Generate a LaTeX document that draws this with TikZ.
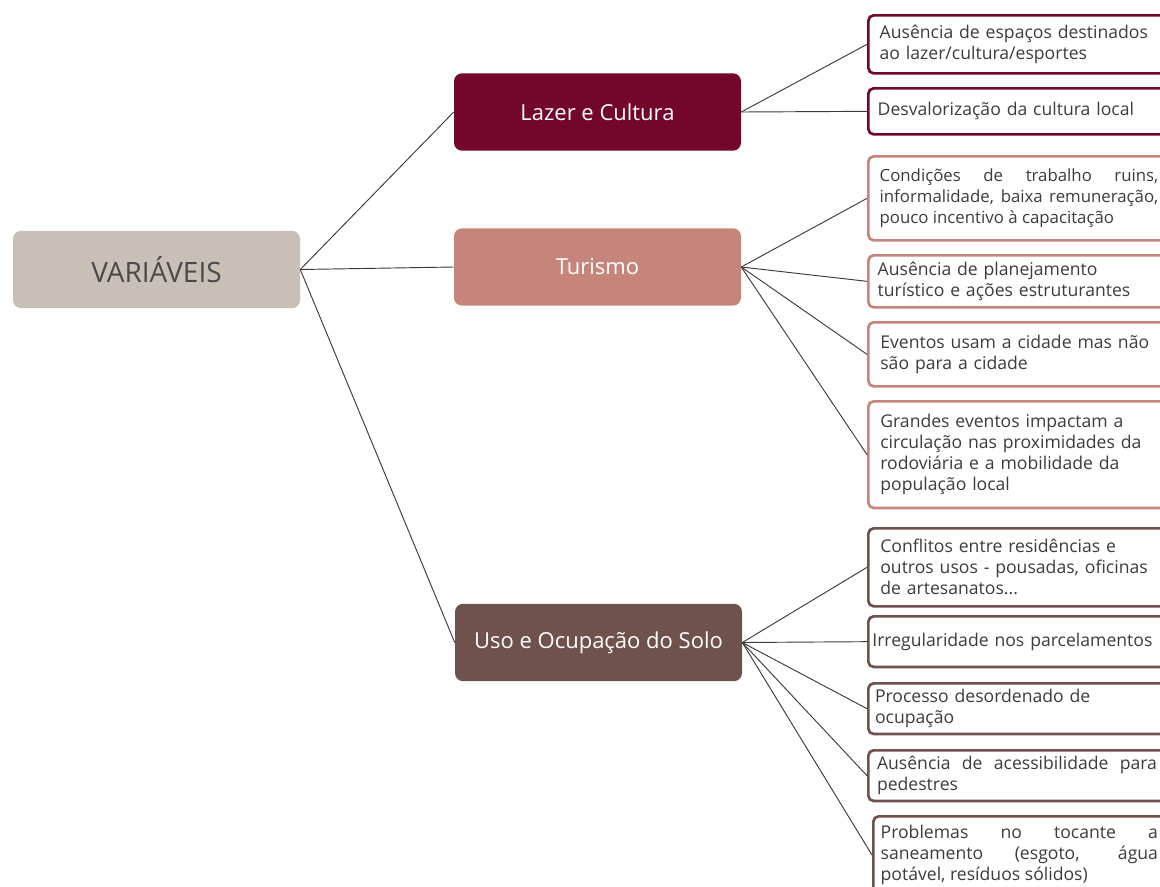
\documentclass[tikz,border=0pt]{standalone}
\usepackage{fontspec}
\setmainfont{Open Sans}
\hyphenpenalty=10000
\definecolor{varfill}{HTML}{C8BFB6}
\definecolor{vartext}{HTML}{4A4A4A}
\definecolor{lazer}{HTML}{72072B}
\definecolor{tur}{HTML}{C5857B}
\definecolor{uso}{HTML}{6F524C}
\definecolor{tgray}{HTML}{3C3C3C}
\definecolor{lgray}{HTML}{3A3A3A}
\begin{document}
\begin{tikzpicture}[x=0.75pt,y=-0.75pt,
  mainbox/.style={rounded corners=6pt, minimum width=215.25pt, minimum height=58pt, inner sep=0pt, text=white, font=\fontsize{16.5}{19}\selectfont},
  rbox/.style={draw, line width=2pt, rounded corners=4pt, fill=white, anchor=north west, inner ysep=0pt, text=tgray, font=\fontsize{13.2}{15.75}\selectfont},
  conn/.style={draw=lgray, line width=0.7pt}]
\useasboundingbox (0,0) rectangle (1160,886);
\clip (0,0) rectangle (1160,886);

\node[mainbox, fill=varfill, text=vartext, font=\fontsize{21}{24}\selectfont] (var) at (156.5,269.5) {VARIÁVEIS};
\node[mainbox, fill=lazer] (lc) at (597.5,112) {Lazer e Cultura};
\node[mainbox, fill=tur] (tu) at (597.5,267) {Turismo};
\node[mainbox, fill=uso] (us) at (598.5,642.5) {Uso e Ocupação do Solo};

% Lazer e Cultura
\node[rbox, draw=lazer, minimum height=43.5pt, inner xsep=8.5pt, text width=215pt, align=left] (a1) at (867,14) {Ausência de espaços destinados\\ao lazer/cultura/esportes};
\node[rbox, draw=lazer, minimum height=34.5pt, inner xsep=7pt, text width=220pt, align=left] (a2) at (867,87) {Desvalorização da cultura local};

% Turismo
\node[rbox, draw=tur, minimum height=63pt, inner xsep=8.5pt, text width=209pt, align=justify, font=\fontsize{12.6}{15.75}\selectfont] (b1) at (867,155) {Condições de trabalho ruins,\linebreak informalidade, baixa remuneração,\linebreak pouco incentivo à capacitação};
\node[rbox, draw=tur, minimum height=39pt, inner xsep=7pt, text width=220pt, align=left] (b2) at (867,254) {Ausência de planejamento\\turístico e ações estruturantes};
\node[rbox, draw=tur, minimum height=48pt, inner xsep=9pt, text width=215pt, align=left] (b3) at (867,321) {Eventos usam a cidade mas não\\são para a cidade};
\node[rbox, draw=tur, minimum height=80pt, inner xsep=9pt, text width=215pt, align=left] (b4) at (867,400) {Grandes eventos impactam a\\circulação nas proximidades da\\rodoviária e a mobilidade da\\população local};

% Uso e Ocupacao
\node[rbox, draw=uso, minimum height=58.5pt, inner xsep=9pt, text width=215pt, align=left] (c1) at (867,527) {Conflitos entre residências e\\outros usos - pousadas, oficinas\\de artesanatos...};
\node[rbox, draw=uso, minimum height=38pt, inner xsep=3pt, text width=225pt, align=left] (c2) at (867,615) {Irregularidade nos parcelamentos};
\node[rbox, draw=uso, minimum height=38pt, inner xsep=5pt, text width=225pt, align=left] (c3) at (867,682) {Processo desordenado de\\ocupação};
\node[rbox, draw=uso, minimum height=38pt, inner xsep=6.5pt, text width=210pt, align=justify] (c4) at (867,749) {Ausência de acessibilidade para\linebreak pedestres};
\node[rbox, draw=uso, minimum height=58pt, inner xsep=5.5pt, text width=208pt, align=justify] (c5) at (872,815) {Problemas no tocante a\linebreak saneamento (esgoto, água\linebreak potável, resíduos sólidos)};

\draw[conn] (var.east) -- (lc.west);
\draw[conn] (var.east) -- (tu.west);
\draw[conn] (var.east) -- (us.west);
\foreach \t in {a1,a2} \draw[conn] (lc.east) -- (\t.west);
\foreach \t in {b1,b2,b3,b4} \draw[conn] (tu.east) -- (\t.west);
\foreach \t in {c1,c2,c3,c4,c5} \draw[conn] (us.east) -- (\t.west);
\end{tikzpicture}
\end{document}
